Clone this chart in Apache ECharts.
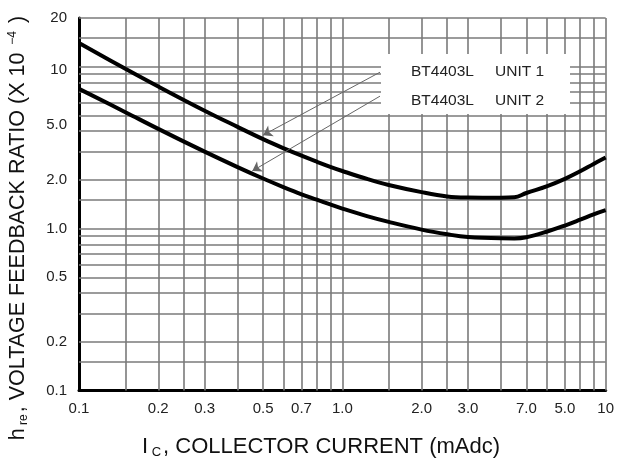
<!DOCTYPE html>
<html>
<head>
<meta charset="utf-8">
<script src="https://cdn.jsdelivr.net/npm/echarts@6/dist/echarts.min.js"></script>
<style>html,body{margin:0;padding:0;background:#fff}#c{width:617px;height:464px}</style>
</head>
<body>
<div id="c"></div>
<script>
// ---- data ----
const current = [0.1, 0.15, 0.2, 0.3, 0.4, 0.5, 0.6, 0.7, 0.8, 0.9, 1.0, 1.25, 1.5, 2.0, 2.5, 3.0, 4.0, 4.5, 5.0, 6.0, 7.0, 8.0, 9.0, 10];
const unit1 = [14, 9.72, 7.55, 5.35, 4.25, 3.57, 3.13, 2.82, 2.59, 2.41, 2.27, 2.02, 1.86, 1.68, 1.58, 1.555, 1.55, 1.56, 1.66, 1.83, 2.03, 2.26, 2.51, 2.75];
const unit2 = [7.3, 5.24, 4.13, 2.99, 2.40, 2.04, 1.80, 1.63, 1.51, 1.41, 1.33, 1.19, 1.10, 0.986, 0.923, 0.887, 0.871, 0.87, 0.885, 0.96, 1.045, 1.135, 1.225, 1.30];
const seriesNames = ['BT4403L UNIT 1', 'BT4403L UNIT 2'];
const xTickValues = [0.1, 0.2, 0.3, 0.5, 0.7, 1, 2, 3, 5, 7, 10];
const xTickLabels = ['0.1', '0.2', '0.3', '0.5', '0.7', '1.0', '2.0', '3.0', '7.0', '5.0', '10'];
const yTickValues = [0.1, 0.2, 0.5, 1, 2, 4.4, 9.5, 20];
const yTickLabels = ['0.1', '0.2', '0.5', '1.0', '2.0', '5.0', '10', '20'];
const xGridValues = [0.15, 0.2, 0.25, 0.3, 0.4, 0.5, 0.6, 0.7, 0.8, 0.9, 1, 1.5, 2, 2.5, 3, 4, 5, 6, 7, 8, 9, 10];
const yGridValues = [0.15, 0.2, 0.3, 0.4, 0.5, 0.6, 0.7, 0.8, 0.9, 1, 1.5, 2, 3, 4, 5, 6, 7, 8, 9, 10, 15, 20];

const FONT = '"Liberation Sans", Arial, sans-serif';
function labeler(vals, labs) {
  return function (v) {
    const i = vals.findIndex(t => Math.abs(Math.log10(t) - Math.log10(v)) < 0.005);
    return i >= 0 ? labs[i] : '';
  };
}
const toPairs = ys => current.map((x, i) => [x, ys[i]]);

const chart = echarts.init(document.getElementById('c'), null, {renderer: 'canvas'});
const option = {
  animation: false,
  backgroundColor: '#fff',
  grid: {left: 79, right: 8, top: 18, bottom: 73.5},
  xAxis: {
    type: 'log', logBase: 10, min: 0.1, max: 10,
    splitLine: {show: false}, minorSplitLine: {show: false},
    axisTick: {show: false},
    axisLine: {show: true, onZero: false, lineStyle: {color: '#000', width: 3}},
    axisLabel: {customValues: xTickValues, formatter: labeler(xTickValues, xTickLabels),
      margin: 11, fontSize: 15, color: '#222', fontFamily: FONT}
  },
  yAxis: {
    type: 'log', logBase: 10, min: 0.1, max: 20,
    splitLine: {show: false}, minorSplitLine: {show: false},
    axisTick: {show: false},
    axisLine: {show: true, onZero: false, lineStyle: {color: '#000', width: 3}},
    axisLabel: {customValues: yTickValues, formatter: labeler(yTickValues, yTickLabels),
      margin: 12, fontSize: 15, color: '#222', fontFamily: FONT}
  },
  series: [
    {
      name: 'grid', type: 'line', data: [], z: 1, silent: true,
      markLine: {
        z: 1, silent: true, symbol: 'none', animation: false,
        label: {show: false}, emphasis: {disabled: true},
        lineStyle: {color: '#7a7a7a', width: 1.6, type: 'solid'},
        data: xGridValues.map(v => ({xAxis: v})).concat(yGridValues.map(v => ({yAxis: v})))
      }
    },
    {
      name: seriesNames[0], type: 'line', data: toPairs(unit1), z: 3,
      smooth: 0.4, symbol: 'none', lineStyle: {color: '#000', width: 4},
      markLine: {
        z: 5, silent: true, symbol: ['none', 'arrow'], symbolSize: 9, animation: false,
        label: {show: false}, emphasis: {disabled: true},
        lineStyle: {color: '#666', width: 1, type: 'solid'},
        data: [[{coord: [1.39, 9.25]}, {coord: [0.5, 3.78]}]]
      }
    },
    {
      name: seriesNames[1], type: 'line', data: toPairs(unit2), z: 3,
      smooth: 0.4, symbol: 'none', lineStyle: {color: '#000', width: 4},
      markLine: {
        z: 5, silent: true, symbol: ['none', 'arrow'], symbolSize: 9, animation: false,
        label: {show: false}, emphasis: {disabled: true},
        lineStyle: {color: '#666', width: 1, type: 'solid'},
        data: [[{coord: [1.39, 6.58]}, {coord: [0.455, 2.27]}]]
      }
    }
  ],
  graphic: [
    {type: 'rect', z: 2, shape: {x: 381, y: 54, width: 189, height: 60}, style: {fill: '#fff'}, silent: true},
    {type: 'text', z: 10, x: 411, y: 72, style: {text: 'BT4403L', font: '15.5px ' + FONT, fill: '#222', textVerticalAlign: 'middle'}},
    {type: 'text', z: 10, x: 495, y: 72, style: {text: 'UNIT 1', font: '15.5px ' + FONT, fill: '#222', textVerticalAlign: 'middle'}},
    {type: 'text', z: 10, x: 411, y: 101, style: {text: 'BT4403L', font: '15.5px ' + FONT, fill: '#222', textVerticalAlign: 'middle'}},
    {type: 'text', z: 10, x: 495, y: 101, style: {text: 'UNIT 2', font: '15.5px ' + FONT, fill: '#222', textVerticalAlign: 'middle'}},
    {type: 'text', z: 10, x: 321, y: 447,
      style: {
        text: '{b|I}{s| C}{b|, COLLECTOR CURRENT (mAdc)}',
        align: 'center', verticalAlign: 'middle',
        rich: {
          b: {fontSize: 22, fontFamily: FONT, fill: '#111', color: '#111'},
          s: {fontSize: 13, fontFamily: FONT, fill: '#111', color: '#111', padding: [11, 2, 0, 0]}
        }
      }
    },
    {type: 'text', z: 10, x: 18, y: 228, rotation: Math.PI / 2,
      style: {
        text: '{b|h}{s| re}{b|, VOLTAGE FEEDBACK RATIO (X 10 }{p|−4}{b| )}',
        align: 'center', verticalAlign: 'middle',
        rich: {
          b: {fontSize: 21.5, fontFamily: FONT, fill: '#111', color: '#111'},
          s: {fontSize: 12, fontFamily: FONT, fill: '#111', color: '#111', padding: [11, 2, 0, 0]},
          p: {fontSize: 12, fontFamily: FONT, fill: '#111', color: '#111', padding: [0, 2, 11, 2]}
        }
      }
    }
  ]
};
chart.setOption(option);
</script>
</body>
</html>
